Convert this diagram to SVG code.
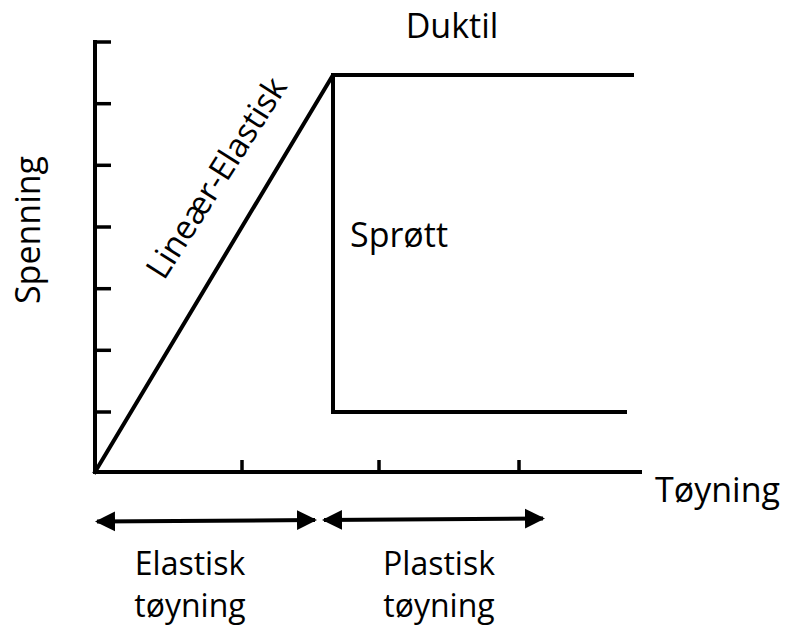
<svg xmlns="http://www.w3.org/2000/svg" width="788" height="630" viewBox="0 0 788 630">
<defs>
<style>
.ln{stroke:#000;stroke-width:4;fill:none;stroke-linecap:square}
.tk{stroke:#000;stroke-width:3.5;fill:none}
.t{font-family:"Open Sans","Liberation Sans",sans-serif;font-size:34px;fill:#000}
.s{font-size:32px}
</style>
<marker id="ah" viewBox="0 0 10 10" refX="9" refY="5" markerWidth="5" markerHeight="5.5" orient="auto-start-reverse" markerUnits="strokeWidth">
<path d="M0,0 L10,5 L0,10 z" fill="#000"/>
</marker>
</defs>
<rect width="788" height="630" fill="#fff"/>
<g id="axes">
<line class="ln" x1="95" y1="42" x2="95" y2="472"/>
<line class="ln" x1="95" y1="472" x2="640" y2="472"/>
<g class="tk">
<line x1="95" y1="42" x2="111" y2="42"/>
<line x1="95" y1="103.7" x2="111" y2="103.7"/>
<line x1="95" y1="165.3" x2="111" y2="165.3"/>
<line x1="95" y1="227" x2="111" y2="227"/>
<line x1="95" y1="288.7" x2="111" y2="288.7"/>
<line x1="95" y1="350.3" x2="111" y2="350.3"/>
<line x1="95" y1="412" x2="111" y2="412"/>
<line x1="242" y1="460" x2="242" y2="472"/>
<line x1="379" y1="460" x2="379" y2="472"/>
<line x1="519" y1="460" x2="519" y2="472"/>
</g>
<text class="t" x="655" y="502">Tøyning</text>
<text class="t" transform="translate(40 230) rotate(-90)" text-anchor="middle">Spenning</text>
</g>
<g id="curves">
<polyline class="ln" points="95,472 333,75 632,75" stroke-linejoin="miter"/>
<polyline class="ln" points="333,75 333,412 625,412"/>
<text class="t" style="font-size:33px" transform="translate(226 184) rotate(-57.5)" text-anchor="middle">Lineær-Elastisk</text>
<text class="t" x="452" y="38" text-anchor="middle">Duktil</text>
<text class="t" x="350" y="247">Sprøtt</text>
</g>
<g id="connectors">
<line x1="97" y1="521.5" x2="315" y2="520" stroke="#000" stroke-width="4" marker-start="url(#ah)" marker-end="url(#ah)"/>
<line x1="324" y1="520" x2="543" y2="518.5" stroke="#000" stroke-width="4" marker-start="url(#ah)" marker-end="url(#ah)"/>
</g>
<g id="labels">
<text class="t s" x="190" y="575" text-anchor="middle">Elastisk</text>
<text class="t s" x="190" y="617" text-anchor="middle">tøyning</text>
<text class="t s" x="439" y="575" text-anchor="middle">Plastisk</text>
<text class="t s" x="439" y="617" text-anchor="middle">tøyning</text>
</g>
</svg>
